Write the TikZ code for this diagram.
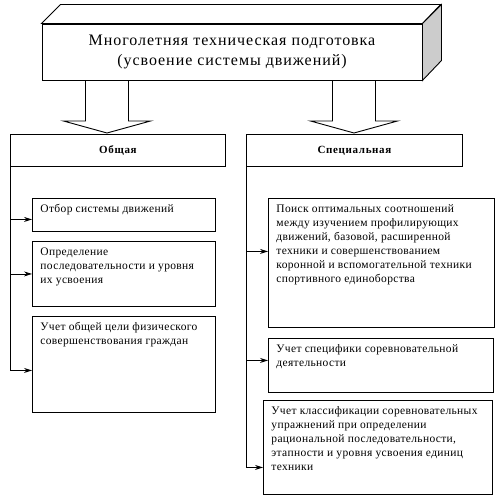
\documentclass[tikz,border=0pt]{standalone}
\usepackage{fontspec}
\setmainfont{Liberation Serif}
\usepackage{tikz}
\usetikzlibrary{arrows.meta}
\usetikzlibrary{calc}
\tikzset{
    item/.style={
        draw,
        fill=white,
        anchor=north west,
        inner xsep=8pt,
        inner ysep=6pt,
        font=\fontsize{11.5}{14}\selectfont\addfontfeatures{LetterSpace=3}
    },
    head/.style={
        draw,
        anchor=north west,
        minimum height=32pt,
        inner sep=0pt,
        font=\fontsize{11}{13}\selectfont\bfseries\addfontfeatures{LetterSpace=6}
    },
    link/.style={
        -{Stealth[length=8pt, width=5pt]}
    }
}
\newcommand{\itemtext}[3]{\parbox[t][#2][t]{#1}{\raggedright #3}}

\begin{document}
\begin{tikzpicture}[x=1pt, y=-1pt, line width=0.9pt]
    \useasboundingbox (0,0) rectangle (500,500);
    % Block arrows
    \foreach \cx in {107,354}
        \draw[fill=white] (\cx-21.5,80) -- (\cx-21.5,121) -- (\cx-43.5,121) -- (\cx,133) -- (\cx+43.5,121) -- (\cx+21.5,121) -- (\cx+21.5,80);
    
    % Title block
    \node[draw, fill=white, minimum width=380pt, minimum height=56pt, inner sep=0pt, align=center,
          font=\fontsize{16}{19.5}\selectfont\addfontfeatures{LetterSpace=6}] (title) at (232,52)
          {Многолетняя техническая подготовка\\(усвоение системы движений)};
    \draw[fill=white] (title.north west) -- ++(19,-19) -- ++(380,0) -- (title.north east) -- cycle;
    \draw[fill=gray!40] (title.north east) -- ++(19,-19) -- ++(0,56) -- (title.south east) -- cycle;
    
    % Headers
    \node[head, minimum width=215pt] (gen) at (10,134) {Общая};
    \node[head, minimum width=216pt] (spec) at (246,134) {Специальная};
    
    % General
    \node[item] (g1) at (32,198) {\itemtext{167pt}{21pt}{Отбор системы движений}};
    \node[item] (g2) at (32,241) {\itemtext{167pt}{53pt}{Определение\\последовательности и уровня\\их усвоения}};
    \node[item] (g3) at (32,316) {\itemtext{167pt}{84pt}{Учет общей цели физического\\совершенствования граждан}};
    
    % Special
    \node[item] (s1) at (268,198) {\itemtext{210pt}{117pt}{Поиск оптимальных соотношений\\между изучением профилирующих\\движений, базовой, расширенной\\техники и совершенствованием\\коронной и вспомогательной техники\\спортивного единоборства}};
    \node[item] (s2) at (268,338) {\itemtext{209pt}{42pt}{Учет специфики соревновательной\\деятельности}};
    \node[item] (s3) at (263,400) {\itemtext{213pt}{82pt}{Учет классификации соревновательных\\упражнений при определении\\рациональной последовательности,\\этапности и уровня усвоения единиц\\техники}};
    
    % Links
    \draw[link] (gen.south west) |- ($(g3.west)+(0,6)$);
    \draw[link] (gen.south west |- g2.west) -- (g2.west);
    \draw[link] ($(gen.south west |- g1.west)+(0,4.5)$) -- ($(g1.west)+(0,4.5)$);
    \draw[link] (spec.south west) |- ($(s3.west)+(0,20)$);
    \draw[link] ($(spec.south west |- s1.west)+(0,-11.5)$) -- ($(s1.west)+(0,-11.5)$);
    \draw[link] ($(spec.south west |- s2.west)+(0,-5)$) -- ($(s2.west)+(0,-5)$);
\end{tikzpicture}
\end{document}
